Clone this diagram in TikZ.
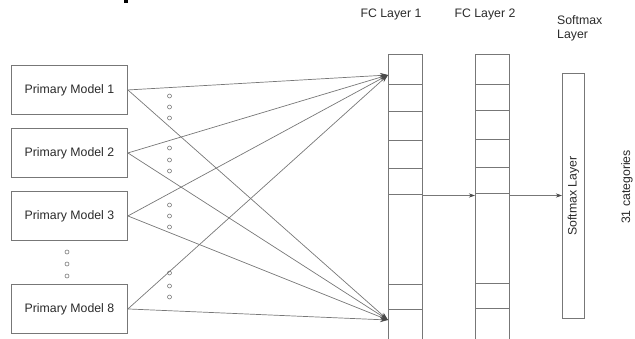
\documentclass[tikz,border=0pt]{standalone}
\usepackage{fontspec}
\setmainfont{Liberation Sans}
\usetikzlibrary{arrows.meta}
\definecolor{edge}{HTML}{777777}
\definecolor{tip}{HTML}{4A4A4A}
\definecolor{txt}{HTML}{2A2A2A}
\begin{document}
\begin{tikzpicture}[x=1pt,y=-1pt,
  font=\fontsize{12.3}{14.5}\selectfont,
  pmbox/.style={draw=edge, line width=0.9pt, rectangle, minimum width=116pt, minimum height=49pt, inner sep=0pt, text=txt, anchor=north west},
  layerbox/.style={draw=edge, line width=1pt, rectangle, inner sep=0pt, anchor=north west},
  cell/.style={draw=edge, line width=1pt},
  conn/.style={draw=edge, line width=0.7pt, -{Stealth[length=8pt,width=5pt,color=tip]}},
  flow/.style={draw=edge, line width=0.7pt, -{Stealth[length=6pt,width=4pt,color=tip]}},
  dotc/.style={draw=edge, line width=0.6pt},
  lbl/.style={text=txt, inner sep=0pt}
]
\useasboundingbox (0,0) rectangle (635,338);
\clip (0,0) rectangle (635,338);
\fill[black] (124,0) rectangle (128,3);

% primary model boxes
\node[pmbox] (m1) at (11,65) {Primary Model 1};
\node[pmbox] (m2) at (11,128) {Primary Model 2};
\node[pmbox] (m3) at (11,191) {Primary Model 3};
\node[pmbox] (m8) at (11,284) {Primary Model 8};

% layers
\node[layerbox, minimum width=34pt, minimum height=300pt] (fc1) at (388,54) {};
\node[layerbox, minimum width=34pt, minimum height=300pt] (fc2) at (475,54) {};
\node[layerbox, minimum width=22pt, minimum height=245pt] (sm) at (562,73) {};
\node[lbl, rotate=90] (smt) at (sm.center) {Softmax Layer};

\foreach \y in {84,111,140,168.5,194.5,284,309}
  \draw[cell] (fc1.west |- 0,\y) -- (fc1.east |- 0,\y);
\foreach \y in {84,110.5,139.5,167.5,193.5,283.5,308.5}
  \draw[cell] (fc2.west |- 0,\y) -- (fc2.east |- 0,\y);

% labels
\node[lbl] (l1) at (391,14) {FC Layer 1};
\node[lbl] (l2) at (485,14) {FC Layer 2};
\node[lbl, align=left, anchor=north west] (l3) at (557,15) {Softmax\\Layer};
\node[lbl, rotate=90] (cat) at (627,187) {31 categories};

% targets on FC layer 1
\coordinate (tA) at (388,75);
\coordinate (tB) at (388,320);

\foreach \m in {m1,m2,m3,m8}{
  \draw[conn] (\m.east) -- (tA);
  \draw[conn] (\m.east) -- (tB);
}

% flow arrows
\draw[flow] (fc1.east |- 0,195.5) -- (fc2.west |- 0,195.5);
\draw[flow] (fc2.east |- 0,195.5) -- (sm.west |- 0,195.5);

% ellipsis dots
\foreach \y in {96,107,118,148,160,171,205,216,227,273,286,297}
  \draw[dotc] (169.5,\y) circle (2);
\foreach \y in {252,264,276}
  \draw[dotc] (67,\y) circle (2);
\end{tikzpicture}
\end{document}
